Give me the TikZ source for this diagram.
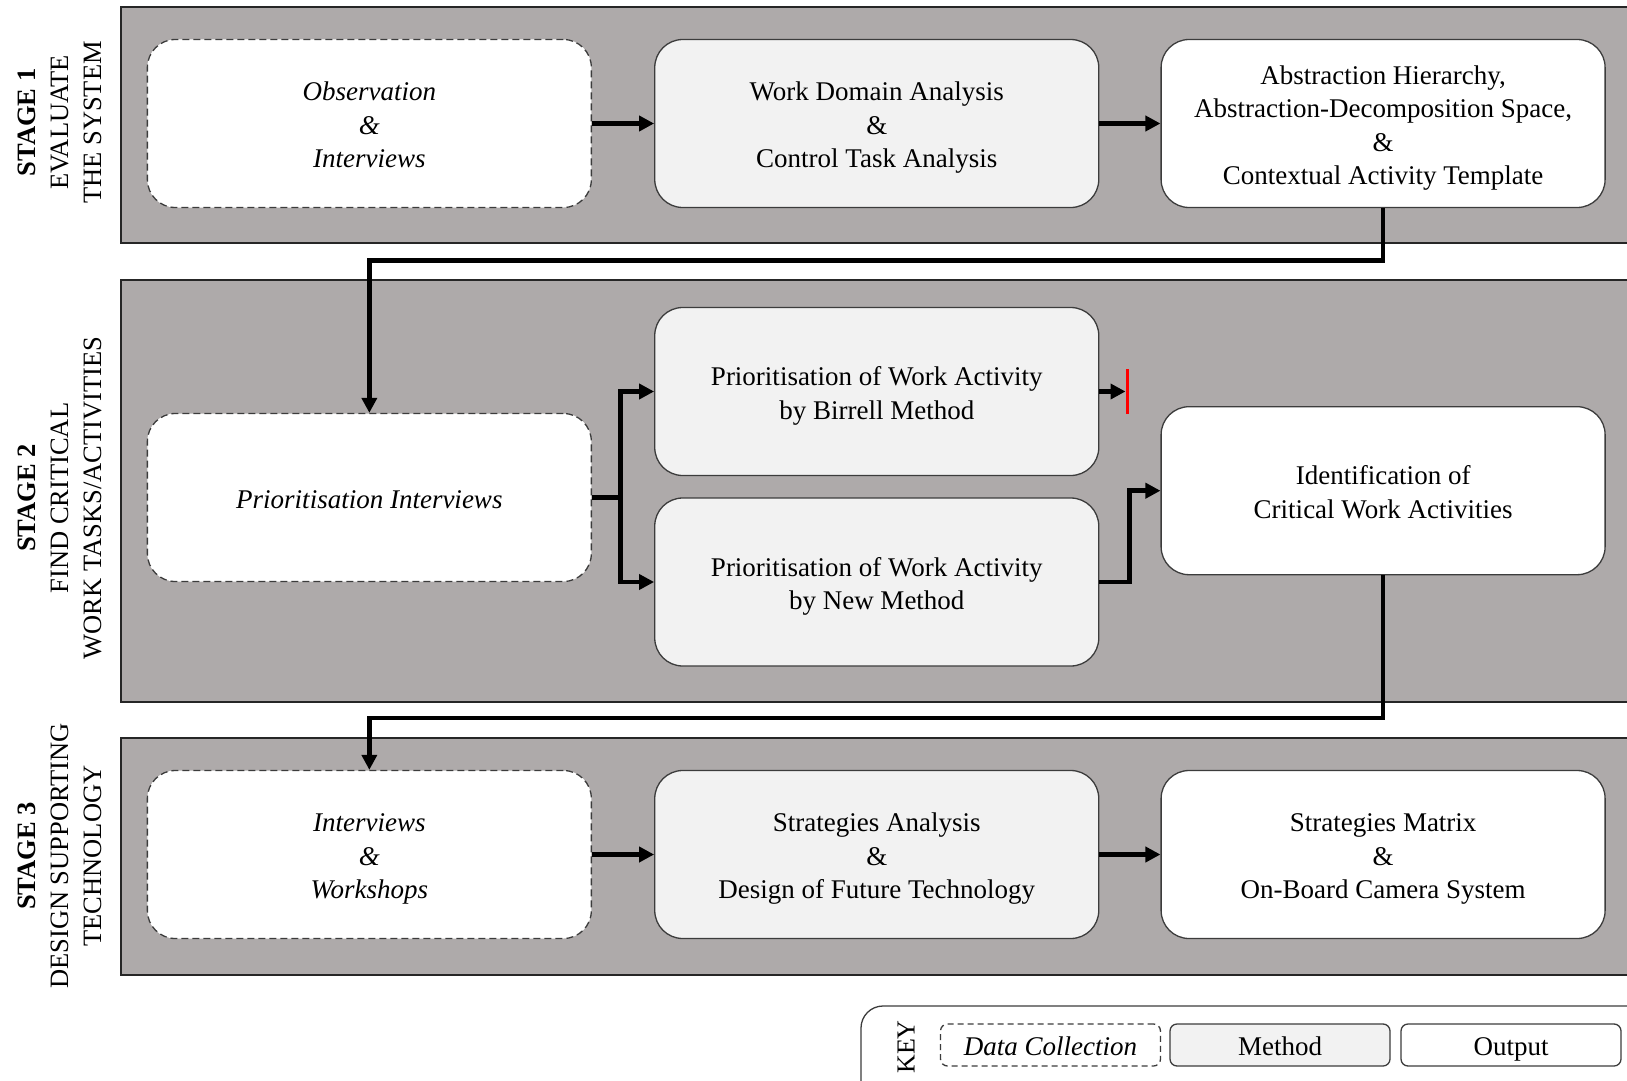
\documentclass[tikz,border=0pt]{standalone}
\usepackage{fontspec}
\setmainfont{Liberation Serif}
\usetikzlibrary{arrows.meta,calc}
\definecolor{panelgray}{RGB}{174,170,170}
\definecolor{methodfill}{RGB}{242,242,242}
\definecolor{edgegray}{RGB}{60,60,60}
% centred lines, set a little below the middle of their box
\newcommand\boxlines[1]{\raisebox{0pt}[\dimexpr\height+8.5pt\relax][\depth]{\begin{tabular}{@{}c@{}}#1\end{tabular}}}
\tikzset{
  boxtext/.style={font=\fontsize{27}{33.5}\selectfont},
  basebox/.style={boxtext, rectangle, rounded corners=28pt, draw=edgegray,
    line width=1.3pt, minimum width=444pt, minimum height=168pt, inner sep=0pt},
  collectbox/.style={basebox, fill=white, dash pattern=on 7pt off 4pt},
  methodbox/.style={basebox, fill=methodfill},
  outputbox/.style={basebox, fill=white},
  panel/.style={fill=panelgray, draw=black!85, line width=1.5pt},
  stagelabel/.style={rotate=90, align=center, font=\fontsize{26.5}{33}\selectfont},
  flow/.style={line width=4.5pt, -{Triangle[length=15pt,width=15pt]}},
  flowline/.style={line width=4.5pt},
  stopbar/.style={red, line width=3.8pt},
  keyframe/.style={draw=edgegray, line width=1.3pt, rounded corners=22pt, fill=white},
  keybox/.style={font=\fontsize{27}{30}\selectfont, rectangle, rounded corners=7pt,
    draw=edgegray, line width=1.3pt, minimum width=220pt, minimum height=42pt,
    inner sep=0pt, text height=24pt, text depth=4pt}
}
\begin{document}
\begin{tikzpicture}[x=1pt,y=-1pt]
\useasboundingbox (0,0) rectangle (1627,1081);
\clip (0,0) rectangle (1627,1081);
\fill[white] (0,0) rectangle (1627,1081);

% stage panels
\draw[panel] (121,7) rectangle (1660,243);
\draw[panel] (121,280) rectangle (1660,702);
\draw[panel] (121,738) rectangle (1660,975);

% stage titles
\node[stagelabel] (s1) at (59.5,122.5) {\textbf{STAGE 1}\\EVALUATE\\THE SYSTEM};
\node[stagelabel] (s2) at (59.5,498) {\textbf{STAGE 2}\\FIND CRITICAL\\WORK TASKS/ACTIVITIES};
\node[stagelabel] (s3) at (59.5,856) {\textbf{STAGE 3}\\DESIGN SUPPORTING\\TECHNOLOGY};

% stage 1
\node[collectbox] (obs) at (369.35,123.5) {\boxlines{\textit{Observation}\\\textit{\&}\\\textit{Interviews}}};
\node[methodbox] (wda) at (876.75,123.5) {\boxlines{Work Domain Analysis\\\&\\Control Task Analysis}};
\node[outputbox] (ah) at (1383.1,123.5) {\boxlines{Abstraction Hierarchy,\\Abstraction-Decomposition Space,\\\&\\Contextual Activity Template}};

% stage 2
\node[collectbox] (pint) at (369.35,497.5) {\boxlines{\textit{Prioritisation Interviews}}};
\node[methodbox] (birr) at (876.75,391.5) {\boxlines{Prioritisation of Work Activity\\by Birrell Method}};
\node[methodbox] (newm) at (876.75,582) {\boxlines{Prioritisation of Work Activity\\by New Method}};
\node[outputbox] (ident) at (1383.1,490.7) {\boxlines{Identification of\\Critical Work Activities}};

% stage 3
\node[collectbox] (intw) at (369.35,854.5) {\boxlines{\textit{Interviews}\\\textit{\&}\\\textit{Workshops}}};
\node[methodbox] (strat) at (876.75,854.5) {\boxlines{Strategies Analysis\\\&\\Design of Future Technology}};
\node[outputbox] (smat) at (1383.1,854.5) {\boxlines{Strategies Matrix\\\&\\On-Board Camera System}};

% connectors
\coordinate (j1) at (369.35,260.5);
\coordinate (j2) at (369.35,718);
\coordinate (br) at (620.5,497.5);
\coordinate (stop) at (1127.5,391.5);

\draw[flow] (obs.east) -- (wda.west);
\draw[flow] (wda.east) -- (ah.west);
\draw[flow] (ah.south) |- (j1) -- (pint.north);

\draw[flowline] (pint.east) -- (br);
\draw[flow] (br) |- (birr.west);
\draw[flow] (br) |- (newm.west);
\draw[flow] (birr.east) -- ([xshift=-2pt]stop);
\draw[stopbar] ([yshift=-22.5pt]stop) -- ([yshift=22.5pt]stop);
\draw[flow] (newm.east) -- ++(30,0) |- (ident.west);
\draw[flow] (ident.south) |- (j2) -- (intw.north);

\draw[flow] (intw.east) -- (strat.west);
\draw[flow] (strat.east) -- (smat.west);

% key
\draw[keyframe] (861,1006) rectangle (1680,1130);
\node[rotate=90, font=\fontsize{26}{30}\selectfont] (key) at (906,1047) {KEY};
\node[keybox, fill=white, dash pattern=on 6pt off 4pt] (kdc) at (1050.5,1045) {\textit{Data Collection}};
\node[keybox, fill=methodfill] (kme) at (1280,1045) {Method};
\node[keybox, fill=white] (kou) at (1511,1045) {Output};
\end{tikzpicture}
\end{document}
